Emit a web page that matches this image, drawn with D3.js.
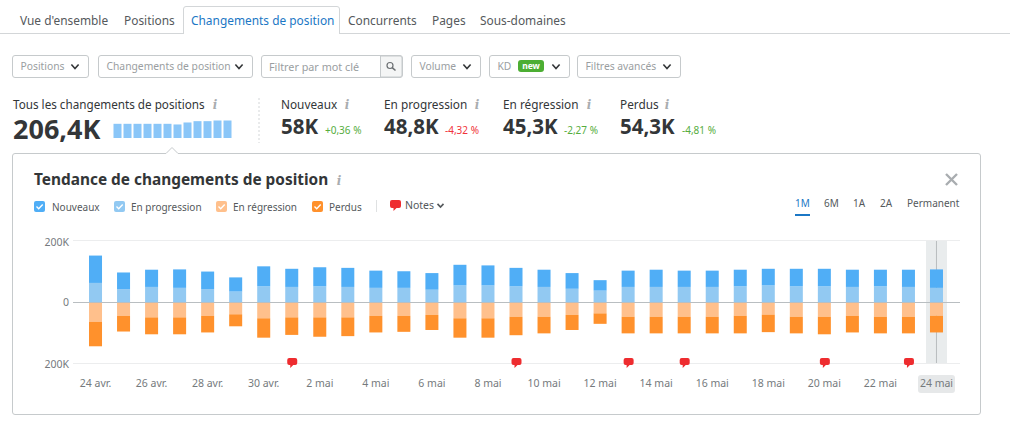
<!DOCTYPE html>
<html lang="fr">
<head>
<meta charset="utf-8">
<title>Tendance de changements de position</title>
<script src="https://d3js.org/d3.v7.min.js"></script>
<style>
  body { margin: 0; background: #fff; }
  svg { display: block; }
  text { font-family: "Noto Sans", sans-serif; }
  .axis path { display: none; }
  .axis text { fill: #757a7d; font-size: 10.5px; }
</style>
</head>
<body>
<svg id="chart" width="1010" height="430"></svg>
<script>
// values, in thousands
var days = ["24 avr.","25 avr.","26 avr.","27 avr.","28 avr.","29 avr.","30 avr.","1 mai","2 mai","3 mai","4 mai","5 mai","6 mai","7 mai","8 mai","9 mai","10 mai","11 mai","12 mai","13 mai","14 mai","15 mai","16 mai","17 mai","18 mai","19 mai","20 mai","21 mai","22 mai","23 mai","24 mai"];
var nouveaux    = [89,54,56,60,57,46,65,59,62,62,56,54,54,67,65,60,56,51,34,53,56,53,53,54,54,57,57,56,54,56,60];
var progression = [62,42,49,46,42,34,51,49,51,49,46,46,40,54,54,51,49,43,37,49,49,49,49,51,54,51,51,49,51,49,46];
var regression  = [65,45,50,50,45,40,53,50,50,50,45,45,42,53,53,48,48,42,37,48,48,48,48,45,41,48,48,45,48,48,45];
var perdus      = [79,51,55,55,54,39,63,57,63,61,54,52,49,63,63,60,54,49,34,54,54,54,54,57,57,54,57,54,54,54,54];
var noteDays = ["1 mai","9 mai","13 mai","15 mai","20 mai","23 mai"];
var yTicks = [-200,0,200];
var miniBars = [43,43,43,43,43,43,41,47,51,51,53,53];

var tabs = ["Vue d'ensemble","Positions","Changements de position","Concurrents","Pages","Sous-domaines"];
var ranges = ["1M","6M","1A","2A","Permanent"];
var legendLabels = ["Nouveaux","En progression","En régression","Perdus"];
var colors = ["#50aef6","#92c9f2","#ffc08c","#ff912c"];

var svg = d3.select("#chart");
var dark = "#333638", mid = "#55595c", grey = "#9a9ea1", border = "#c6cacc";

function label(x, y, s, size, fill, weight, anchor) {
  return svg.append("text").attr("x", x).attr("y", y).text(s)
    .attr("font-size", size).attr("fill", fill)
    .attr("font-weight", weight || 400).attr("text-anchor", anchor || "start");
}

function chevron(x, y, w, color) {
  svg.append("path").attr("d", "M" + (x - w) + "," + (y - w * 0.55) + "L" + x + "," + (y + w * 0.55) + "L" + (x + w) + "," + (y - w * 0.55))
    .attr("fill", "none").attr("stroke", color || dark).attr("stroke-width", 1.6);
}

function infoIcon(x, y) {
  label(x, y, "i", 12, "#a9adb0", 700, "middle").style("font-family", "'DejaVu Serif', serif").style("font-style", "italic");
}

function bubble(x, y, w, h) {
  svg.append("path")
    .attr("d", "M" + (x + 2) + "," + y + "h" + (w - 4) + "q2,0 2,2v" + (h - 4) + "q0,2 -2,2h" + (-(w - 4) / 2 + 1) + "l-3,3v-3h" + (-(w - 4) / 2 + 2) + "q-2,0 -2,-2v" + (-(h - 4)) + "q0,-2 2,-2z")
    .attr("fill", "#ee2c2f");
}

// tabs
var tabX = [20,124,191,348,432,480];
svg.append("line").attr("x1", 0).attr("x2", 1010).attr("y1", 33.5).attr("y2", 33.5).attr("stroke", "#d3d6d8");
svg.append("path").attr("d", "M183.5,34V9q0,-2.5 2.5,-2.5H337q2.5,0 2.5,2.5V34").attr("fill", "#fff").attr("stroke", "#d3d6d8");
tabs.forEach(function(t, i) {
  label(tabX[i], 25, t, 11.9, i == 2 ? "#1b77c5" : mid);
});

// filter row
var filters = [
  {x: 12.5, w: 76, t: "Positions"},
  {x: 98.5, w: 154, t: "Changements de position"},
  {x: 411.5, w: 69, t: "Volume"},
  {x: 489.5, w: 80, t: "KD"},
  {x: 577.5, w: 103, t: "Filtres avancés"}
];
filters.forEach(function(f) {
  svg.append("rect").attr("x", f.x).attr("y", 55.5).attr("width", f.w).attr("height", 22).attr("rx", 2.5)
    .attr("fill", "#fff").attr("stroke", border);
  label(f.x + 8, 70, f.t, 10.3, grey);
  chevron(f.x + f.w - 13.5, 66.5, 3.6);
});
svg.append("rect").attr("x", 261.5).attr("y", 55.5).attr("width", 141).attr("height", 22).attr("rx", 2.5).attr("fill", "#fff").attr("stroke", border);
svg.append("path").attr("d", "M380.5,56H400q2,0 2,2V75q0,2 -2,2H380.5z").attr("fill", "#f4f5f5").attr("stroke", border);
label(269, 71, "Filtrer par mot clé", 10.8, grey);
svg.append("circle").attr("cx", 390).attr("cy", 65.5).attr("r", 3).attr("fill", "none").attr("stroke", "#6c7073").attr("stroke-width", 1.2);
svg.append("line").attr("x1", 392.2).attr("y1", 67.7).attr("x2", 395.5).attr("y2", 70.5).attr("stroke", "#6c7073").attr("stroke-width", 1.6);
svg.append("rect").attr("x", 518).attr("y", 60).attr("width", 26).attr("height", 12).attr("rx", 3).attr("fill", "#4cae33");
label(531, 69, "new", 8.5, "#fff", 700, "middle");

// summary numbers
label(13, 109, "Tous les changements de positions", 11.7, dark);
infoIcon(215, 109);
label(13, 139, "206,4K", 27, dark, 700);
var miniX = d3.scaleBand().domain(d3.range(miniBars.length)).range([112.5, 232.5]).paddingInner(0.2).paddingOuter(0.1);
var miniY = d3.scaleLinear().domain([0, 53]).range([138, 120.5]);
svg.selectAll(".mini").data(miniBars).enter().append("rect").attr("class", "mini")
  .attr("x", function(d, i) { return miniX(i); }).attr("width", miniX.bandwidth())
  .attr("y", function(d) { return miniY(d); }).attr("height", function(d) { return 138 - miniY(d); })
  .attr("fill", "#8ac6f8");
svg.append("line").attr("x1", 259).attr("x2", 259).attr("y1", 98).attr("y2", 143)
  .attr("stroke", "#d3d6d8").attr("stroke-dasharray", "2,2");

var kpiNames = ["Nouveaux","En progression","En régression","Perdus"];
var kpiValues = ["58K","48,8K","45,3K","54,3K"];
var kpiDeltas = ["+0,36 %","-4,32 %","-2,27 %","-4,81 %"];
var kpiDeltaColors = ["#55ad3d","#f0333a","#55ad3d","#55ad3d"];
var kpiX = [281,384,503,620], kpiDeltaX = [325,445,564,682], kpiInfoX = [347,477,589,667];
kpiNames.forEach(function(n, i) {
  label(kpiX[i], 109, n, 11.8, dark);
  infoIcon(kpiInfoX[i], 109);
  label(kpiX[i], 134, kpiValues[i], 20.5, dark, 700);
  label(kpiDeltaX[i], 134, kpiDeltas[i], 10, kpiDeltaColors[i]);
});

// panel with notch
svg.append("path")
  .attr("d", "M12.5,156q0,-2.5 2.5,-2.5H166l6,-6l6,6H978q2.5,0 2.5,2.5V412q0,2.5 -2.5,2.5H15q-2.5,0 -2.5,-2.5z")
  .attr("fill", "#fff").attr("stroke", border);
label(34, 185, "Tendance de changements de position", 15.4, dark, 700);
infoIcon(339, 185);
svg.append("path").attr("d", "M946,174L957,185M957,174L946,185").attr("stroke", "#a9adb0").attr("stroke-width", 2.4);

// legend
var legendBox = [34,114,216,312], legendText = [52,131,233,329];
legendLabels.forEach(function(n, i) {
  svg.append("rect").attr("x", legendBox[i]).attr("y", 201).attr("width", 11).attr("height", 11).attr("rx", 2).attr("fill", colors[i]);
  svg.append("path").attr("d", "M" + (legendBox[i] + 2.5) + ",206.5l2.2,2.2l4,-4.2").attr("fill", "none").attr("stroke", "#fff").attr("stroke-width", 1.4);
  label(legendText[i], 210.5, n, 10, mid);
});
svg.append("line").attr("x1", 376.5).attr("x2", 376.5).attr("y1", 200).attr("y2", 212).attr("stroke", "#dfe1e2");
bubble(390, 200, 11, 8);
label(405, 208.5, "Notes", 10.5, mid);
chevron(440.5, 205.5, 3, mid);

// range switch
var rangeX = [795,824,853,880,907];
ranges.forEach(function(r, i) {
  label(rangeX[i], 207, r, 10, i == 0 ? "#1b77c5" : mid);
});
svg.append("rect").attr("x", 795).attr("y", 214).attr("width", 15).attr("height", 2).attr("fill", "#1b77c5");

// scales
var x = d3.scaleBand().domain(days).range([81.5, 950.5]).paddingInner(0.536).paddingOuter(0.268);
var y = d3.scaleLinear().domain([-200, 200]).range([363.5, 240.5]);

// today highlight under the bars
var lastX = x(days[days.length - 1]) + x.bandwidth() / 2;
svg.append("rect").attr("x", lastX - 10.5).attr("y", 241).attr("width", 21).attr("height", 122).attr("fill", "#e9eced");
svg.append("line").attr("x1", lastX).attr("x2", lastX).attr("y1", 241).attr("y2", 363).attr("stroke", "#b9bdbf");
svg.append("rect").attr("x", lastX - 18.5).attr("y", 375).attr("width", 37).attr("height", 18).attr("rx", 3).attr("fill", "#e6e8e9");

// y axis with grid lines
var yAxis = svg.append("g").attr("class", "axis").attr("transform", "translate(73,0)")
  .call(d3.axisLeft(y).tickValues(yTicks).tickSize(-887).tickPadding(4).offset(0)
    .tickFormat(function(d) { return d == 0 ? "0" : Math.abs(d) + "K"; }));
yAxis.selectAll("line").attr("stroke", function(d) { return d == 0 ? "none" : "#ecedee"; });
yAxis.selectAll("text").attr("dy", function(d) { return d == 200 ? "0.56em" : "0.42em"; });

// stacked bars, gains up and losses down
var table = days.map(function(d, i) {
  return {day: d, nouveaux: nouveaux[i], progression: progression[i], regression: -regression[i], perdus: -perdus[i]};
});
var keys = ["progression","nouveaux","regression","perdus"];
var keyColor = {nouveaux: colors[0], progression: colors[1], regression: colors[2], perdus: colors[3]};
var series = d3.stack().keys(keys).offset(d3.stackOffsetDiverging)(table);

svg.append("g").selectAll("g").data(series).enter().append("g")
  .attr("fill", function(s) { return keyColor[s.key]; })
  .selectAll("rect").data(function(s) { return s; }).enter().append("rect")
  .attr("x", function(d) { return x(d.data.day); })
  .attr("width", x.bandwidth())
  .attr("y", function(d) { return y(Math.max(d[0], d[1])); })
  .attr("height", function(d) { return Math.abs(y(d[0]) - y(d[1])); });

// zero line stays visible on top of the bars
svg.append("line").attr("x1", 73).attr("x2", 960).attr("y1", y(0) + 0.5).attr("y2", y(0) + 0.5).attr("stroke", "#b9bec1");

// x axis, one label every two days
var xAxis = svg.append("g").attr("class", "axis").attr("transform", "translate(0,376)")
  .call(d3.axisBottom(x).tickValues(days.filter(function(d, i) { return i % 2 == 0; })).tickSize(0).tickPadding(4));

// note markers
noteDays.forEach(function(d) {
  bubble(x(d) + x.bandwidth() / 2 - 4.5, 358, 10, 7);
});
</script>
</body>
</html>
